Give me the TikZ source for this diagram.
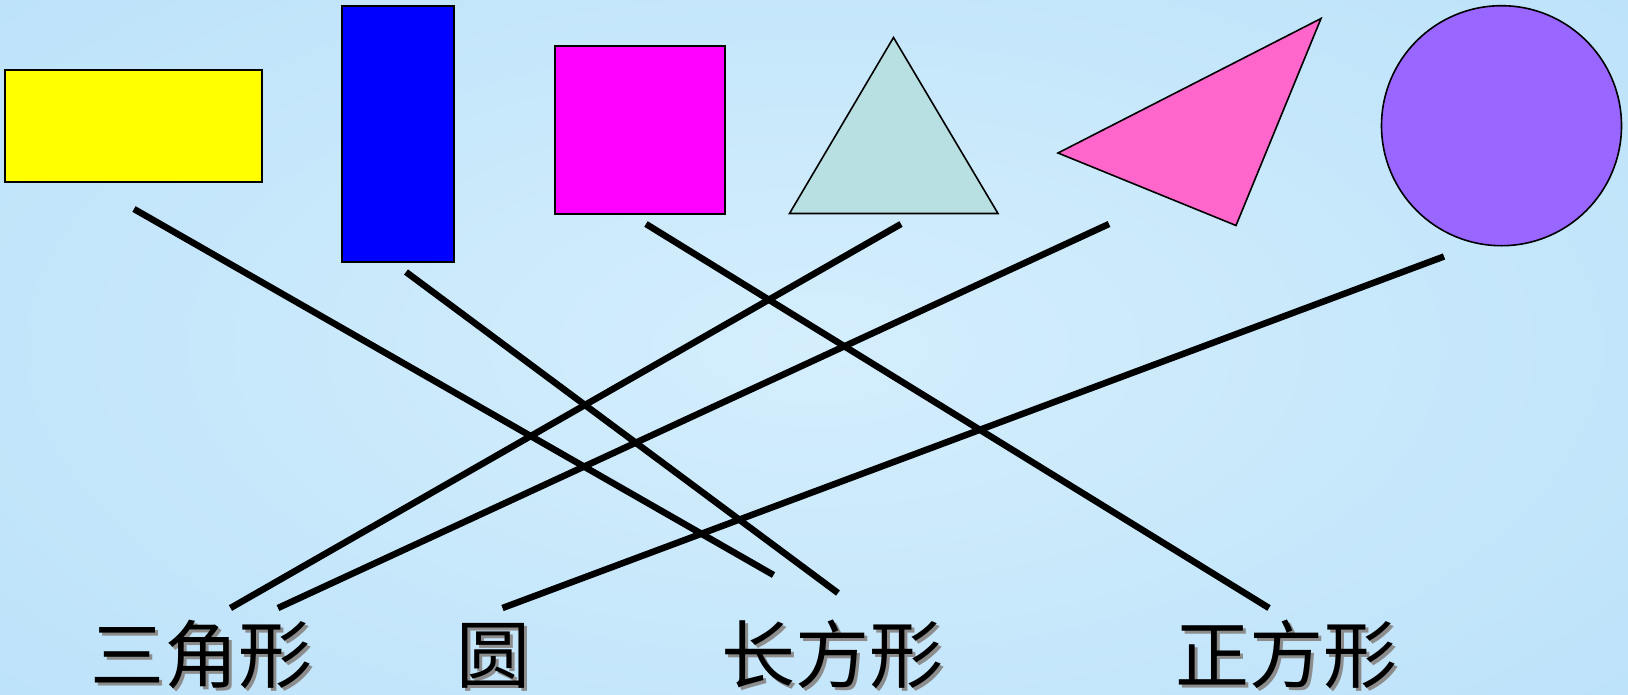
\documentclass[tikz,border=0pt]{standalone}
\usepackage{fontspec}
\newfontfamily\cjk{Noto Sans CJK SC}
\definecolor{bgA}{RGB}{212,238,252}
\definecolor{bgB}{RGB}{188,226,250}
\definecolor{cyel}{RGB}{255,255,0}
\definecolor{cblu}{RGB}{0,0,255}
\definecolor{cmag}{RGB}{255,0,255}
\definecolor{cteal}{RGB}{184,224,226}
\definecolor{cpink}{RGB}{255,102,204}
\definecolor{cpur}{RGB}{153,102,255}
\newcommand\shtxt[1]{\makebox[0pt][l]{\hspace{3pt}\raisebox{-3pt}{\color{black!45}#1}}#1}
\tikzset{
  shapebox/.style={draw=black,line width=1.6pt,inner sep=0pt,outer sep=0pt},
  link/.style={line width=6.5pt,black},
  lbl/.style={anchor=base west,inner sep=0pt,font=\cjk\fontsize{74pt}{74pt}\selectfont}
}
\begin{document}
\begin{tikzpicture}[x=1pt,y=-1pt]
\useasboundingbox (0,0) rectangle (1628,694);
\shade[inner color=bgA,outer color=bgB] (-300,-200) rectangle (1928,894);
% shapes
\node[shapebox,fill=cyel,minimum width=257pt,minimum height=112pt] (yel) at (133.5,126) {};
\node[shapebox,fill=cblu,minimum width=112pt,minimum height=256pt] (blu) at (398,134) {};
\node[shapebox,fill=cmag,minimum width=170pt,minimum height=168pt] (mag) at (640,130) {};
\draw[line width=1.6pt,fill=cteal,line join=miter] (893.5,37.5) -- (998,213.5) -- (789.5,213.5) -- cycle;
\draw[line width=1.6pt,fill=cpink,line join=miter] (1321,18.5) -- (1236,225.5) -- (1058,153) -- cycle;
\node[shapebox,fill=cpur,circle,minimum size=240pt] (pur) at (1501.5,125.7) {};
% labels
\node[lbl] (san) at (90,682) {\shtxt{三角形}};
\node[lbl] (yuan) at (456,682) {\shtxt{圆}};
\node[lbl] (chang) at (721,682) {\shtxt{长方形}};
\node[lbl] (zheng) at (1175,682) {\shtxt{正方形}};
% connector ends
\coordinate (a1) at (134,209);   \coordinate (b1) at (773.5,575);
\coordinate (a2) at (406,272);   \coordinate (b2) at (838,593);
\coordinate (a3) at (646,224);   \coordinate (b3) at (1269,608);
\coordinate (a4) at (901,224);   \coordinate (b4) at (230.5,608);
\coordinate (a5) at (1109,224);  \coordinate (b5) at (278,608);
\coordinate (a6) at (1444,256.5);\coordinate (b6) at (502.5,608);
\draw[link] (a1) -- (b1);
\draw[link] (a2) -- (b2);
\draw[link] (a3) -- (b3);
\draw[link] (a4) -- (b4);
\draw[link] (a5) -- (b5);
\draw[link] (a6) -- (b6);
\end{tikzpicture}
\end{document}
